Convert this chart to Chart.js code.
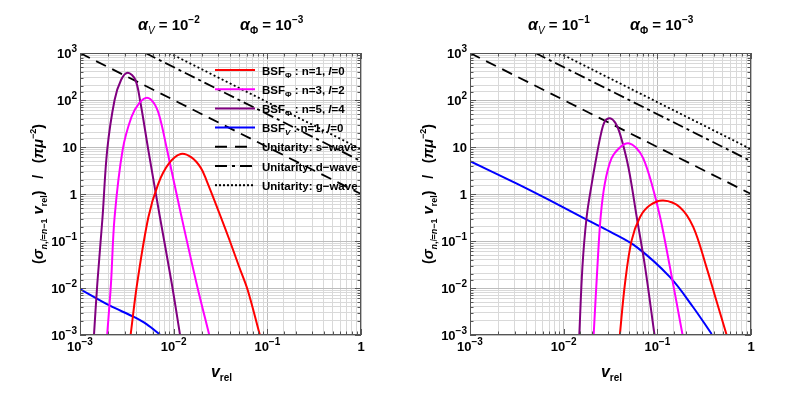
<!DOCTYPE html>
<html>
<head>
<meta charset="utf-8">
<script src="https://cdn.jsdelivr.net/npm/chart.js@4.4.1/dist/chart.umd.min.js"></script>
<style>
  body { margin: 0; background: #fff; width: 789px; height: 395px; overflow: hidden; position: relative; }
  canvas { position: absolute; top: 0; }
  #leftChart { left: 0; }
  #rightChart { left: 390px; }
</style>
</head>
<body>
<canvas id="leftChart" width="390" height="395"></canvas>
<canvas id="rightChart" width="399" height="395"></canvas>
<script>
// axis ranges / tick labels
const xRange = [1e-3, 1];
const yRange = [1e-3, 1e3];
const xTickExps = [-3, -2, -1, 0];
const yTickExps = [3, 2, 1, 0, -1, -2, -3];

// unitarity bounds (same in both panels)
const uniS = [[1e-3, 1000], [1, 1]];
const uniD = [[5e-3, 1000], [1, 5]];
const uniG = [[9e-3, 1000], [1, 9]];

// left panel: alpha_V = 1e-2, alpha_Phi = 1e-3   ([v_rel, sigma v])
const leftRed = [[3.47e-3, 1e-3], [4.07e-3, 0.0122], [5.37e-3, 0.32], [6.86e-3, 1.67], [8.91e-3, 4.47],
  [0.0119, 7.1], [0.0155, 6.0], [0.0195, 3.6], [0.0224, 1.95], [0.0309, 0.38], [0.0398, 0.1],
  [0.0501, 0.028], [0.0617, 0.0091], [0.0832, 1e-3]];
const leftMagenta = [[1.95e-3, 1e-3], [2.14e-3, 0.0122], [2.34e-3, 0.32], [2.85e-3, 8.6], [3.55e-3, 44],
  [4.27e-3, 85], [5.19e-3, 112], [6.17e-3, 85], [7.08e-3, 44], [8.51e-3, 8.6], [0.01216, 0.32],
  [0.0176, 0.0122], [0.024, 1e-3]];
const leftPurple = [[1.41e-3, 1e-3], [1.53e-3, 0.0123], [1.74e-3, 0.32], [1.95e-3, 8.5], [2.34e-3, 100],
  [2.75e-3, 270], [3.24e-3, 380], [3.89e-3, 270], [4.37e-3, 100], [5.37e-3, 8.5], [7.14e-3, 0.32],
  [9.55e-3, 0.0123], [0.0117, 1e-3]];
const leftBlue = [[1e-3, 0.0095], [2.09e-3, 0.0042], [3.72e-3, 0.00245], [5.13e-3, 0.0017], [7.41e-3, 0.00096]];

// right panel: alpha_V = 1e-1, alpha_Phi = 1e-3
const rightRed = [[0.0398, 1e-3], [0.0451, 0.0123], [0.0531, 0.102], [0.0652, 0.32], [0.0832, 0.575],
  [0.1156, 0.73], [0.174, 0.525], [0.2415, 0.2], [0.335, 0.0275], [0.4266, 0.0054], [0.5495, 1e-3]];
const rightMagenta = [[0.0209, 1e-3], [0.0229, 0.0275], [0.0248, 0.32], [0.0275, 1.66], [0.0324, 5.7],
  [0.0398, 9.8], [0.049, 12], [0.0603, 9.3], [0.0708, 5.7], [0.0871, 1.66], [0.1072, 0.32],
  [0.1365, 0.0275], [0.186, 1e-3]];
const rightPurple = [[0.01469, 1e-3], [0.01585, 0.0275], [0.01758, 0.32], [0.01995, 1.66], [0.0224, 6.2],
  [0.0251, 19.5], [0.0275, 35], [0.0312, 41], [0.0355, 33], [0.0398, 19.5], [0.049, 3.8],
  [0.0603, 0.32], [0.0741, 0.0275], [0.0933, 1e-3]];
const rightBlue = [[1e-3, 5.0], [3.16e-3, 1.66], [7.14e-3, 0.73], [0.0182, 0.275], [0.0312, 0.158],
  [0.0603, 0.074], [0.1365, 0.017], [0.2415, 0.0039], [0.38, 0.00105]];

const FONT = '"Liberation Sans", Arial, Helvetica, sans-serif';
const RED = "#ff0000", MAGENTA = "#ff00ff", PURPLE = "#800080", BLUE = "#0000ff";

function fontOf(size, style) {
  const b = style && style.includes("b") ? "bold " : "";
  const i = style && style.includes("i") ? "italic " : "";
  return `${i}${b}${size}px ${FONT}`;
}

// parts: [text, size, style, dy]
function drawRich(ctx, parts, x, y, align) {
  let total = 0;
  const widths = parts.map((p) => {
    ctx.font = fontOf(p[1], p[2]);
    const w = ctx.measureText(p[0]).width;
    total += w;
    return w;
  });
  let cx = align === "right" ? x - total : align === "center" ? x - total / 2 : x;
  parts.forEach((p, i) => {
    ctx.font = fontOf(p[1], p[2]);
    ctx.fillText(p[0], cx, y + (p[3] || 0));
    cx += widths[i];
  });
}

function powParts(n) {
  if (n === 0) return [["1", 13, "b"]];
  if (n === 1) return [["10", 13, "b"]];
  return [["10", 13, "b"], [n < 0 ? "\u2212" + -n : String(n), 10, "b", -6]];
}

function isDecade(v) {
  const l = Math.log10(v);
  return Math.abs(l - Math.round(l)) < 1e-6;
}

function curve(data, color) {
  return {
    data: data.map((p) => ({ x: p[0], y: p[1] })),
    borderColor: color,
    borderWidth: 2,
    pointRadius: 0,
    tension: 0.35,
  };
}

function bound(data, dash) {
  return {
    data: data.map((p) => ({ x: p[0], y: p[1] })),
    borderColor: "#000",
    borderWidth: 1.8,
    borderDash: dash,
    pointRadius: 0,
    tension: 0,
  };
}

const LS = 11.5;
const legendItems = [
  { color: RED, dash: [], parts: [["BSF", LS, "b"], ["\u03a6", 8, "b", 3], [" : n=1, ", LS, "b"], ["l", LS, "bi"], ["=0", LS, "b"]] },
  { color: MAGENTA, dash: [], parts: [["BSF", LS, "b"], ["\u03a6", 8, "b", 3], [" : n=3, ", LS, "b"], ["l", LS, "bi"], ["=2", LS, "b"]] },
  { color: PURPLE, dash: [], parts: [["BSF", LS, "b"], ["\u03a6", 8, "b", 3], [" : n=5, ", LS, "b"], ["l", LS, "bi"], ["=4", LS, "b"]] },
  { color: BLUE, dash: [], parts: [["BSF", LS, "b"], ["V", 8, "bi", 3], [" : n=1, ", LS, "b"], ["l", LS, "bi"], ["=0", LS, "b"]] },
  { color: "#000", dash: [12, 8], parts: [["Unitarity: s\u2212wave", LS, "b"]] },
  { color: "#000", dash: [12, 5, 3, 5], parts: [["Unitarity: d\u2212wave", LS, "b"]] },
  { color: "#000", dash: [2, 2], parts: [["Unitarity: g\u2212wave", LS, "b"]] },
];

function panelPlugin(alphaV, showLegend) {
  return {
    id: "panel",
    afterDatasetsDraw(chart) {
      const ctx = chart.ctx;
      const area = chart.chartArea;
      const xs = chart.scales.x;
      const ys = chart.scales.y;
      ctx.save();

      // frame with inward ticks
      ctx.strokeStyle = "#555";
      ctx.lineWidth = 1;
      ctx.strokeRect(area.left + 0.5, area.top + 0.5, area.right - area.left - 1, area.bottom - area.top - 1);
      ctx.beginPath();
      xs.ticks.forEach((t) => {
        const px = Math.round(xs.getPixelForValue(t.value)) + 0.5;
        const len = isDecade(t.value) ? 6 : 3.5;
        ctx.moveTo(px, area.bottom); ctx.lineTo(px, area.bottom - len);
        ctx.moveTo(px, area.top); ctx.lineTo(px, area.top + len);
      });
      ys.ticks.forEach((t) => {
        const py = Math.round(ys.getPixelForValue(t.value)) + 0.5;
        const len = isDecade(t.value) ? 6 : 3.5;
        ctx.moveTo(area.left, py); ctx.lineTo(area.left + len, py);
        ctx.moveTo(area.right, py); ctx.lineTo(area.right - len, py);
      });
      ctx.stroke();

      // tick labels
      ctx.fillStyle = "#000";
      ctx.textBaseline = "alphabetic";
      xTickExps.forEach((n) => {
        drawRich(ctx, powParts(n), xs.getPixelForValue(Math.pow(10, n)), area.bottom + 16, "center");
      });
      yTickExps.forEach((n) => {
        drawRich(ctx, powParts(n), area.left - 3, ys.getPixelForValue(Math.pow(10, n)) + 5, "right");
      });

      // axis titles
      const cxArea = (area.left + area.right) / 2;
      drawRich(ctx, [["v", 16, "bi"], ["rel", 10, "b", 4]], cxArea + 1, 377, "center");
      ctx.save();
      ctx.translate(43, (area.top + area.bottom) / 2);
      ctx.rotate(-Math.PI / 2);
      drawRich(ctx, [
        ["(", 14, "b"], ["\u03c3", 15, "bi"], ["n", 9, "bi", 4], [",", 9, "b", 4], ["l", 9, "i", 4],
        ["=", 9, "b", 4], ["n", 9, "bi", 4], ["\u22121", 9, "b", 4], [" ", 14, "b"],
        ["v", 15, "bi"], ["rel", 9, "b", 4], [")", 14, "b"], ["   /   ", 14, "b"],
        ["(", 14, "b"], ["\u03c0", 15, "bi"], ["\u03bc", 15, "bi"], ["\u22122", 9, "b", -7], [")", 14, "b"],
      ], 0, 0, "center");
      ctx.restore();

      // panel title
      drawRich(ctx, [["\u03b1", 16, "bi"], ["V", 10, "i", 4], [" = 10", 15, "b"], ["\u2212" + alphaV, 10, "b", -7]], 138, 30, "left");
      drawRich(ctx, [["\u03b1", 16, "bi"], ["\u03a6", 10, "b", 4], [" = 10", 15, "b"], ["\u22123", 10, "b", -7]], 240, 30, "left");

      // legend
      if (showLegend) {
        legendItems.forEach((item, i) => {
          const y = 70 + i * 19.2;
          ctx.strokeStyle = item.color;
          ctx.lineWidth = 2;
          ctx.setLineDash(item.dash);
          ctx.beginPath();
          ctx.moveTo(215, y);
          ctx.lineTo(255, y);
          ctx.stroke();
          ctx.setLineDash([]);
          ctx.fillStyle = "#000";
          drawRich(ctx, item.parts, 262, y + 4.5, "left");
        });
      }
      ctx.restore();
    },
  };
}

function makeChart(canvasId, red, magenta, purple, blue, alphaV, showLegend, rightPad) {
  const gridColor = (c) => (c.tick && isDecade(c.tick.value) ? "#bdbdbd" : "#d9d9d9");
  const config = {
    type: "line",
    data: {
      datasets: [
        curve(red, RED),
        curve(magenta, MAGENTA),
        curve(purple, PURPLE),
        curve(blue, BLUE),
        bound(uniS, [11, 7]),
        bound(uniD, [11, 4, 3, 4]),
        bound(uniG, [2, 2.5]),
      ],
    },
    options: {
      responsive: false,
      animation: false,
      devicePixelRatio: 1,
      layout: { padding: { left: 80, top: 53, right: rightPad, bottom: 60 } },
      plugins: { legend: { display: false }, tooltip: { enabled: false } },
      scales: {
        x: {
          type: "logarithmic",
          min: xRange[0],
          max: xRange[1],
          ticks: { display: false, autoSkip: false },
          grid: { color: gridColor, drawTicks: false, lineWidth: 1 },
          border: { display: false },
        },
        y: {
          type: "logarithmic",
          min: yRange[0],
          max: yRange[1],
          ticks: { display: false, autoSkip: false },
          grid: { color: gridColor, drawTicks: false, lineWidth: 1 },
          border: { display: false },
        },
      },
    },
    plugins: [panelPlugin(alphaV, showLegend)],
  };
  new Chart(document.getElementById(canvasId), config);
}

makeChart("leftChart", leftRed, leftMagenta, leftPurple, leftBlue, 2, true, 29);
makeChart("rightChart", rightRed, rightMagenta, rightPurple, rightBlue, 1, false, 38);
</script>
</body>
</html>
